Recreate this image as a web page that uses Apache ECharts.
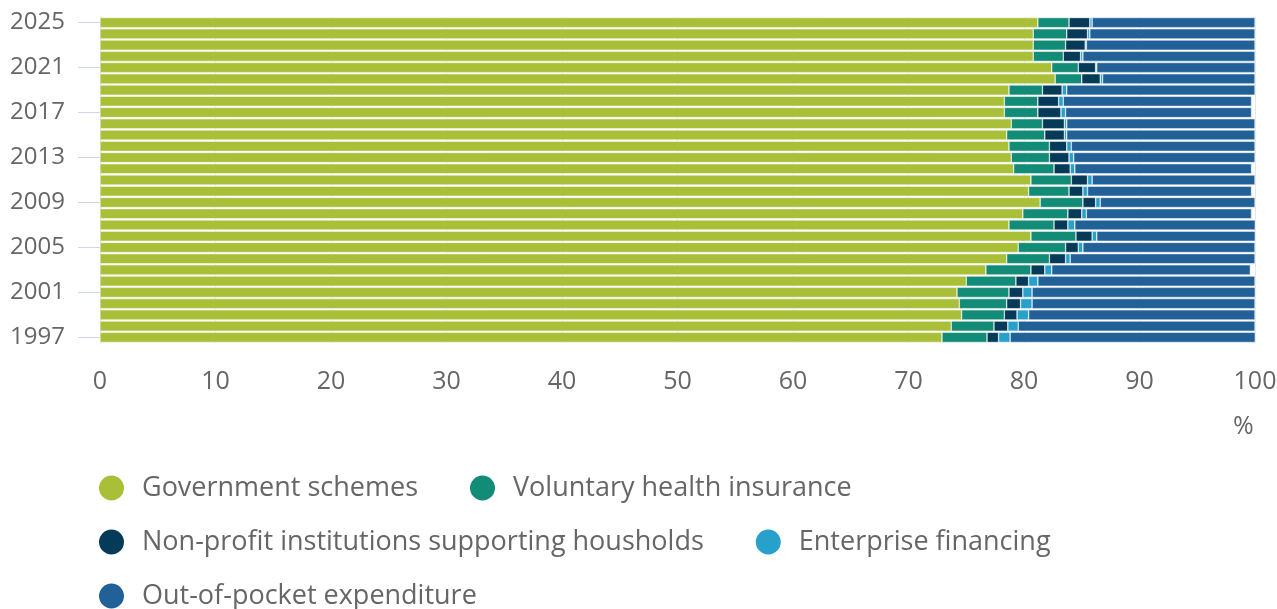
<!DOCTYPE html>
<html>
<head>
<meta charset="utf-8">
<script src="https://cdn.jsdelivr.net/npm/echarts@6/dist/echarts.min.js"></script>
<style>
  html, body { margin: 0; padding: 0; background: #fff; }
  #main { width: 1277px; height: 609px; }
</style>
</head>
<body>
<div id="main"></div>
<script>
// years, bottom to top
var years = [];
for (var y = 1997; y <= 2025; y++) years.push(String(y));

// shares in % (1997 ... 2025)
var government = [72.9, 73.7, 74.6, 74.4, 74.2, 75.0, 76.7, 78.5, 79.5, 80.6,
                  78.7, 79.9, 81.4, 80.4, 80.6, 79.1, 78.9, 78.7, 78.5, 78.9,
                  78.3, 78.3, 78.7, 82.7, 82.4, 80.8, 80.8, 80.8, 81.2];
var voluntary = [3.9, 3.7, 3.7, 4.1, 4.5, 4.3, 3.9, 3.7, 4.1, 3.9,
                 3.9, 3.9, 3.7, 3.5, 3.5, 3.5, 3.3, 3.5, 3.3, 2.7,
                 2.9, 2.9, 2.9, 2.3, 2.3, 2.6, 2.8, 2.9, 2.7];
var nonProfit = [1.0, 1.2, 1.1, 1.2, 1.2, 1.1, 1.2, 1.4, 1.1, 1.4,
                 1.2, 1.2, 1.1, 1.2, 1.4, 1.4, 1.7, 1.5, 1.7, 1.9,
                 2.0, 1.8, 1.7, 1.6, 1.5, 1.5, 1.7, 1.8, 1.8];
var enterprise = [1.0, 0.9, 1.0, 1.0, 0.8, 0.8, 0.6, 0.4, 0.4, 0.4,
                  0.6, 0.4, 0.4, 0.4, 0.4, 0.4, 0.4, 0.4, 0.2, 0.2,
                  0.4, 0.4, 0.4, 0.2, 0.1, 0.2, 0.1, 0.2, 0.2];
var outOfPocket = [21.3, 20.5, 19.6, 19.3, 19.4, 18.8, 17.2, 16.0, 14.9, 13.8,
                   15.7, 14.3, 13.4, 14.2, 14.1, 15.3, 15.7, 15.9, 16.3, 16.3,
                   16.1, 16.3, 16.3, 13.2, 13.7, 14.9, 14.6, 14.3, 14.1];

var seriesNames = ['Government schemes', 'Voluntary health insurance',
  'Non-profit institutions supporting housholds', 'Enterprise financing',
  'Out-of-pocket expenditure'];
var seriesData = [government, voluntary, nonProfit, enterprise, outOfPocket];
var colors = ['#a9bf38', '#128b77', '#053a58', '#28a0cc', '#216198'];

var font = '"Open Sans", sans-serif';

var myChart = echarts.init(document.getElementById('main'));

var series = [];
for (var i = 0; i < seriesNames.length; i++) {
  series.push({
    name: seriesNames[i],
    type: 'bar',
    stack: 'total',
    barCategoryGap: '10%',
    itemStyle: { color: colors[i], borderColor: '#ffffff', borderWidth: 0.5 },
    data: seriesData[i]
  });
}

var option = {
  animation: false,
  color: colors,
  grid: { left: 100, right: 22, top: 17, bottom: 266, outerBoundsMode: 'none' },
  legend: {
    left: 97,
    top: 472,
    width: 1160,
    padding: 0,
    icon: 'circle',
    itemWidth: 27,
    itemHeight: 27,
    itemGap: 22,
    data: seriesNames,
    textStyle: {
      fontFamily: font,
      fontSize: 27,
      color: '#666666',
      lineHeight: 27,
      padding: [5, 28, 0, 12]
    }
  },
  xAxis: {
    type: 'value',
    min: 0,
    max: 100,
    interval: 10,
    axisLine: { show: false },
    axisTick: { show: false },
    splitLine: { lineStyle: { color: '#e6e6e6', width: 1 } },
    axisLabel: { fontFamily: font, fontSize: 25, color: '#666666', margin: 26 }
  },
  yAxis: {
    type: 'category',
    data: years,
    axisLine: { show: true, lineStyle: { color: '#ccd6eb', width: 1 } },
    axisTick: {
      show: true,
      interval: 3,
      length: 22,
      alignWithLabel: true,
      lineStyle: { color: '#ccd6eb', width: 1 }
    },
    axisLabel: { interval: 3, fontFamily: font, fontSize: 24, color: '#666666', margin: 35 }
  },
  graphic: [{
    type: 'text',
    left: 1233,
    top: 414,
    style: { text: '%', fontFamily: font, fontSize: 25, fill: '#666666' }
  }],
  series: series
};

myChart.setOption(option);
</script>
</body>
</html>
